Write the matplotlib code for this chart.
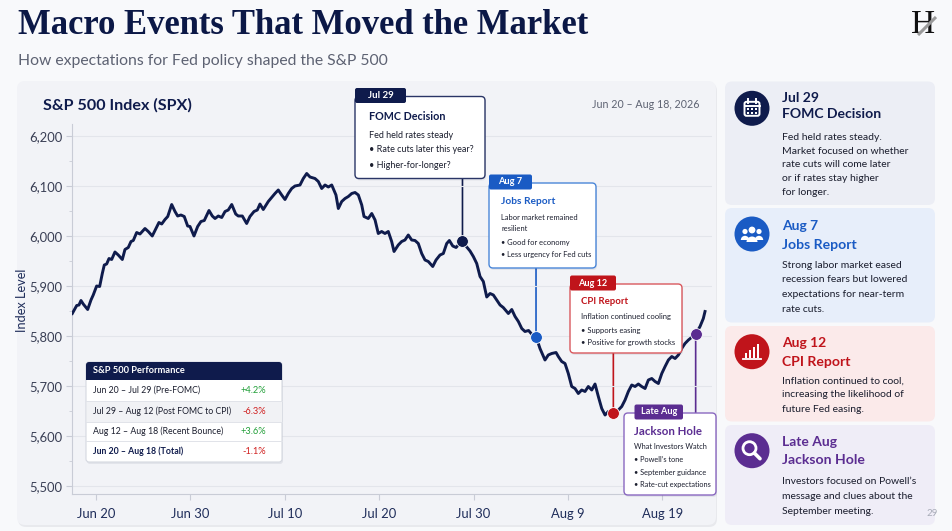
import numpy as np
import pandas as pd
import matplotlib
matplotlib.use("Agg")
import matplotlib.pyplot as plt
from matplotlib.patches import FancyBboxPatch, Rectangle, Circle, Wedge
from matplotlib.patches import ConnectionPatch
from matplotlib.ticker import FuncFormatter, MultipleLocator
import matplotlib.transforms as mtransforms

plt.rcParams['font.family'] = ['Lato', 'DejaVu Sans']

# ---- data (days after Jun 20, index level) ----
start_date = pd.Timestamp("2026-06-20")
days = [-2.51, -2.04, -1.80, -1.59, -1.35, -0.88, -0.53, -0.29, 0.07, 0.39,
        0.67, 0.88, 1.13, 1.38, 1.66, 2.01, 2.36, 2.79, 3.07, 3.42,
        3.71, 3.95, 4.31, 4.66, 5.19, 5.54, 5.96, 6.25, 6.67, 6.96,
        7.31, 7.60, 8.02, 8.37, 8.65, 9.00, 9.35, 9.71, 9.96, 10.38,
        10.77, 11.12, 11.47, 11.97, 12.32, 12.61, 12.96, 13.32, 13.67, 14.01,
        14.38, 14.80, 15.07, 15.50, 15.96, 16.31, 16.74, 17.09, 17.37, 17.72,
        18.25, 18.61, 18.96, 19.31, 19.67, 20.02, 20.37, 20.73, 21.08, 21.61,
        21.96, 22.32, 22.67, 23.20, 23.55, 23.91, 24.26, 24.61, 24.97, 25.42,
        25.67, 26.03, 26.38, 26.73, 27.09, 27.44, 27.79, 28.15, 28.39, 28.84,
        29.21, 29.56, 29.90, 30.26, 30.61, 30.96, 31.32, 31.57, 32.02, 32.38,
        32.73, 33.08, 33.44, 33.79, 34.14, 34.50, 34.85, 35.20, 35.67, 36.02,
        36.44, 36.79, 37.15, 37.43, 37.79, 38.14, 38.38, 38.82, 39.27, 39.62,
        39.97, 40.33, 40.68, 41.03, 41.39, 41.74, 42.09, 42.45, 42.80, 43.14,
        43.68, 44.04, 44.39, 44.74, 45.10, 45.44, 45.82, 46.19, 46.61, 47.03,
        47.56, 47.91, 48.27, 48.73, 48.97, 49.33, 49.68, 50.03, 50.39, 50.74,
        51.09, 51.45, 51.80, 52.15, 52.51, 52.86, 53.21, 53.57, 53.92, 54.27,
        54.80, 55.33, 55.69, 56.04, 56.39, 56.75, 57.10, 57.45, 57.80, 58.16,
        58.51, 58.87, 59.22, 59.57, 59.93, 60.28, 60.63, 60.99, 61.34, 61.69,
        62.04, 62.39, 62.75, 63.52, 63.98, 64.33, 64.51]
spx = [5845, 5861, 5862, 5871, 5864, 5853, 5872, 5882, 5900, 5899,
       5925, 5942, 5944, 5955, 5953, 5968, 5962, 5953, 5973, 5977,
       5989, 5991, 6007, 6004, 6015, 6009, 6000, 6011, 6027, 6024,
       6033, 6039, 6063, 6049, 6040, 6042, 6039, 6020, 6019, 6000,
       6019, 6029, 6031, 6051, 6040, 6035, 6040, 6037, 6049, 6052,
       6063, 6044, 6040, 6040, 6025, 6039, 6049, 6052, 6064, 6053,
       6069, 6077, 6085, 6092, 6082, 6073, 6085, 6095, 6100, 6102,
       6115, 6125, 6118, 6115, 6109, 6095, 6102, 6098, 6102, 6082,
       6055, 6069, 6075, 6079, 6085, 6087, 6082, 6062, 6039, 6035,
       6045, 6032, 6005, 6009, 6005, 6009, 5989, 5969, 5982, 5989,
       5992, 6002, 5992, 5991, 5985, 5965, 5952, 5949, 5939, 5952,
       5962, 5965, 5985, 5991, 5980, 5977, 5982, 5990, 5978, 5970,
       5959, 5945, 5919, 5909, 5878, 5885, 5882, 5872, 5862, 5857,
       5845, 5853, 5839, 5829, 5815, 5809, 5811, 5803, 5799, 5775,
       5752, 5762, 5765, 5767, 5759, 5749, 5745, 5725, 5699, 5695,
       5685, 5692, 5689, 5699, 5692, 5704, 5679, 5655, 5642, 5649,
       5647, 5652, 5659, 5672, 5689, 5702, 5699, 5704, 5699, 5695,
       5712, 5715, 5709, 5705, 5725, 5739, 5752, 5759, 5755, 5762,
       5775, 5785, 5792, 5804, 5819, 5835, 5849]

# events marked on the line
event_days = [38.82, 46.61, 54.80, 63.52]
event_tags = ["Jul 29", "Aug 7", "Aug 12", "Late Aug"]
event_names = ["FOMC Decision", "Jobs Report", "CPI Report", "Jackson Hole"]
event_colors = ["#0f1b4c", "#1a5bc4", "#c0141b", "#5b2d91"]

# performance table
perf_periods = ["Jun 20 \u2013 Jul 29 (Pre-FOMC)", "Jul 29 \u2013 Aug 12 (Post FOMC to CPI)",
                "Aug 12 \u2013 Aug 18 (Recent Bounce)", "Jun 20 \u2013 Aug 18 (Total)"]
perf_returns = [4.2, -6.3, 3.6, -1.1]

NAVY = "#0f1b4c"
W, H = 952, 531

fig = plt.figure(figsize=(W / 100, H / 100), dpi=100)
fig.patch.set_facecolor("#f8f9fb")
renderer = fig.canvas.get_renderer()

# background overlay in pixel coordinates
bg = fig.add_axes([0, 0, 1, 1], zorder=0)
bg.set_xlim(0, W)
bg.set_ylim(H, 0)
bg.axis("off")

fg = fig.add_axes([0, 0, 1, 1], zorder=3)
fg.set_xlim(0, W)
fg.set_ylim(H, 0)
fg.axis("off")
fg.patch.set_alpha(0)


def rbox(axis, x0, y0, x1, y1, fc, ec="none", lw=0, r=6, z=1, shadow=False):
    if shadow:
        axis.add_patch(FancyBboxPatch((x0 + 1, y0 + 2), x1 - x0, y1 - y0,
                                      boxstyle=f"round,pad=0,rounding_size={r}",
                                      fc="#1a2040", ec="none", alpha=0.07, zorder=z))
    axis.add_patch(FancyBboxPatch((x0, y0), x1 - x0, y1 - y0,
                                  boxstyle=f"round,pad=0,rounding_size={r}",
                                  fc=fc, ec=ec, lw=lw, zorder=z))


def put(axis, x, y, s, size, color="#1b1e2e", weight="normal", ha="left", va="center", **kw):
    return axis.text(x, y, s, fontsize=size, color=color, fontweight=weight,
                     ha=ha, va=va, **kw)


def fit(txt, width_px):
    w = txt.get_window_extent(renderer).width
    txt.set_fontsize(txt.get_fontsize() * width_px / w)
    return txt.get_fontsize()


def size_for(s, width_px, weight="normal"):
    # font size at which s is width_px wide
    t = fig.text(0, 0, s, fontsize=10, fontweight=weight)
    size = fit(t, width_px)
    t.remove()
    return size


# header
t = bg.text(18, 26, "Macro Events That Moved the Market", fontsize=25, fontweight="bold",
            color="#0b1846", family=["Liberation Serif", "DejaVu Serif"], va="center")
fit(t, 570)
t = put(bg, 18, 61, "How expectations for Fed policy shaped the S&P 500", 10.5, color="#5d6272")
fit(t, 372)
bg.text(923, 25, "H", fontsize=24, color="#111111", family=["Liberation Serif"],
        ha="center", va="center", zorder=2)
bg.plot([918, 936], [35, 17], color="#9a9a9a", lw=2.2, solid_capstyle="butt", zorder=3)

# cards
rbox(bg, 17, 81, 716, 525, "#f2f3f7", shadow=True, r=8)
panel_bg = ["#eceef5", "#e7eefa", "#fbeaea", "#efedf7"]
panel_y = [(81.5, 205), (208, 322.5), (326, 421.5), (425, 525)]
for (y0, y1), c in zip(panel_y, panel_bg):
    rbox(bg, 725, y0, 935, y1, c, r=7)

t = put(bg, 43, 105, "S&P 500 Index (SPX)", 11.2, color=NAVY, weight="bold")
fit(t, 149)
t = put(bg, 700, 104, "Jun 20 \u2013 Aug 18, 2026", 8.8, color="#5d6272", ha="right")
fit(t, 107)

# ---- main chart ----
ax = fig.add_axes([72 / W, (H - 494) / H, 640 / W, (494 - 123.5) / H], zorder=2)
ax.patch.set_alpha(0)
ax.plot(days, spx, color=NAVY, lw=2.1, solid_joinstyle="round", zorder=3)
ax.set_xlim(-2.54, 65.25)
ax.set_ylim(5484, 6225)

ax.yaxis.set_major_locator(MultipleLocator(100))
ax.yaxis.set_minor_locator(MultipleLocator(50))
ax.yaxis.set_major_formatter(FuncFormatter(lambda v, p: f"{v:,.0f}"))
ax.set_xticks(np.arange(0, 61, 10))
ax.xaxis.set_major_formatter(FuncFormatter(
    lambda v, p: f"{(start_date + pd.Timedelta(days=v)):%b} {(start_date + pd.Timedelta(days=v)).day}"))
ax.grid(axis="y", color="#e3e5eb", lw=0.8)
ax.set_axisbelow(True)
for s in ["top", "right"]:
    ax.spines[s].set_visible(False)
for s in ["left", "bottom"]:
    ax.spines[s].set_color("#c9ccd6")
ax.tick_params(axis="both", which="both", color="#c9ccd6", length=4)
ax.tick_params(axis="y", which="minor", length=2.5)
ax.tick_params(axis="y", labelsize=9.4, labelcolor="#3a3f55", pad=3)
ax.tick_params(axis="x", labelsize=9.4, labelcolor="#1f2d5a", pad=6)
put(bg, 22, 300, "Index Level", 9.2, color="#1f2d5a", ha="center", rotation=90)

# event markers and connectors
ev_vals = np.interp(event_days, days, spx)
box_edge_y = [178.5, 268, 353, 413]
blend = mtransforms.blended_transform_factory(ax.transData, fg.transData)
for d, v, c, by in zip(event_days, ev_vals, event_colors, box_edge_y):
    con = ConnectionPatch(xyA=(d, by), coordsA=blend, xyB=(d, v), coordsB=ax.transData,
                          color=c, lw=1.2, zorder=2)
    fig.add_artist(con)
    ax.plot(d, v, "o", ms=8.5, color=c, mec="white", mew=0.6, zorder=5, clip_on=False)

# annotation boxes: (box x0, y0, x1, y1), tag width, border colour
boxes = [((355, 96.5, 485, 178.5), 51, "#2a3566"),
         ((489, 183, 596, 268), 43, "#4a86d8"),
         ((570, 284, 682, 353), 46, "#d9585e"),
         ((624, 413, 716, 495), 48.5, "#8a68c0")]
box_lines = [["Fed held rates steady", "\u2022 Rate cuts later this year?", "\u2022 Higher-for-longer?"],
             ["Labor market remained", "resilient", "\u2022 Good for economy",
              "\u2022 Less urgency for Fed cuts"],
             ["Inflation continued cooling", "\u2022 Supports easing", "\u2022 Positive for growth stocks"],
             ["What Investors Watch", "\u2022 Powell\u2019s tone", "\u2022 September guidance",
              "\u2022 Rate-cut expectations"]]
line_y = [[135, 150, 165], [217, 228.5, 242, 254], [316.5, 330.5, 342.7], [446.5, 460, 473, 485]]
head_y = [117, 202, 302, 431.5]
text_x = [369, 501, 581, 634.5]
tag_x = [355, 489, 570, 634.5]
head_w = [76, 54, 47, 68]          # pixel width of the heading in each box
body_fit = [(1, 105), (3, 91), (2, 94), (3, 78)]   # (line index, pixel width)
tag_w_txt = [26, 24, 29, 36]

for i, ((x0, y0, x1, y1), tw, ec) in enumerate(boxes):
    rbox(fg, x0, y0, x1, y1, "white", ec=ec, lw=1.0, r=4, z=2, shadow=True)
    tx = tag_x[i]
    rbox(fg, tx, y0 - 8.5, tx + tw, y0 + 6.5, event_colors[i], r=2, z=3)
    tsz = min(7.4, size_for(event_tags[i], tag_w_txt[i], "bold"))
    put(fg, tx + tw / 2, y0 - 1, event_tags[i], tsz, color="white", weight="bold",
        ha="center", zorder=4)
    hsz = size_for(event_names[i], head_w[i], "bold")
    put(fg, text_x[i], head_y[i], event_names[i], hsz, color=event_colors[i],
        weight="bold", zorder=4)
    k, wpx = body_fit[i]
    bsz = size_for(box_lines[i][k], wpx)
    for s, yy in zip(box_lines[i], line_y[i]):
        put(fg, text_x[i], yy, s, bsz, color="#1b1e2e", zorder=4)

# performance table
tx0, tx1 = 86, 282
rows = [379.5, 401, 421.5, 441, 462]
rbox(fg, tx0, 362, tx1, 462, "white", ec="#d5d8e0", lw=0.8, r=3, z=2, shadow=True)
fg.add_patch(FancyBboxPatch((tx0, 362), tx1 - tx0, 17.5, boxstyle="round,pad=0,rounding_size=3",
                            fc=NAVY, ec="none", zorder=3))
fg.add_patch(Rectangle((tx0, 372), tx1 - tx0, 7.5, fc=NAVY, ec="none", zorder=3))
t = put(fg, 93, 370.7, "S&P 500 Performance", 6.8, color="white", weight="bold", zorder=4)
fit(t, 92)
fg.add_patch(Rectangle((tx0 + 0.5, rows[1]), tx1 - tx0 - 1, rows[2] - rows[1],
                       fc="#f1f2f5", ec="none", zorder=3))
for yy in rows[1:-1]:
    fg.plot([tx0, tx1], [yy, yy], color="#e1e3e9", lw=0.7, zorder=3)
tsize = size_for(perf_periods[1], 138)
for i, (lab, r) in enumerate(zip(perf_periods, perf_returns)):
    yc = (rows[i] + rows[i + 1]) / 2
    bold = "bold" if i == len(perf_periods) - 1 else "normal"
    put(fg, 93, yc, lab, tsize, color=NAVY if bold == "bold" else "#1b1e2e", weight=bold, zorder=4)
    put(fg, 266, yc, f"{r:+.1f}%", tsize + 0.4, color="#23a03a" if r > 0 else "#d01f1f",
        ha="right", zorder=4)

# ---- right side panels ----
panel_tags = ["Jul 29", "Aug 7", "Aug 12", "Late Aug"]
panel_text = [["Fed held rates steady.", "Market focused on whether", "rate cuts will come later",
               "or if rates stay higher", "for longer."],
              ["Strong labor market eased", "recession fears but lowered",
               "expectations for near-term", "rate cuts."],
              ["Inflation continued to cool,", "increasing the likelihood of", "future Fed easing."],
              ["Investors focused on Powell\u2019s", "message and clues about the", "September meeting."]]
tag_y = [98.3, 225.7, 343.3, 441.7]
name_y = [114.3, 244.7, 361.7, 460]
body_y = [[137.3, 151, 164.7, 178.7, 192.3], [265, 279.3, 294.7, 310],
          [380.7, 394.3, 409.3], [481.7, 496.7, 511.7]]
icon_y = [108.3, 234, 351.7, 450.7]
p_tag = size_for("Jul 29", 37, "bold")
p_name = size_for("FOMC Decision", 99, "bold")
p_body = size_for("Market focused on whether", 128)
for i in range(4):
    c = event_colors[i]
    put(bg, 782, tag_y[i], panel_tags[i], p_tag, color=c, weight="bold")
    put(bg, 782, name_y[i], event_names[i], p_name, color=c, weight="bold")
    for s, yy in zip(panel_text[i], body_y[i]):
        put(bg, 782, yy, s, p_body, color="#1b1e2e")
    bg.add_patch(Circle((752, icon_y[i]), 17.5, fc=c, ec="none", zorder=2))

# icons
cx, cy = 752, icon_y[0]
bg.add_patch(FancyBboxPatch((cx - 7.5, cy - 6.5), 15, 14, boxstyle="round,pad=0,rounding_size=2",
                            fc="none", ec="white", lw=1.4, zorder=3))
bg.plot([cx - 7.5, cx + 7.5], [cy - 2.5, cy - 2.5], color="white", lw=1.4, zorder=3)
for dx in (-4, 4):
    bg.plot([cx + dx, cx + dx], [cy - 9, cy - 5], color="white", lw=1.4, zorder=3)
for gx in (-4, 0, 4):
    for gy in (1, 4.5):
        bg.add_patch(Rectangle((cx + gx - 1, cy + gy - 1), 2, 2, fc="white", ec="none", zorder=3))

cx, cy = 752, icon_y[1]
for dx, r, yoff in ((-7, 2.6, -2.5), (7, 2.6, -2.5), (0, 3.4, -4)):
    bg.add_patch(Circle((cx + dx, cy + yoff), r, fc="white", ec="none", zorder=3))
for dx, r, yb in ((-7, 4.2, 6), (7, 4.2, 6), (0, 5.5, 8)):
    bg.add_patch(Wedge((cx + dx, cy + yb), r, 180, 360, fc="white", ec="none",
                       zorder=3 if dx else 4))

cx, cy = 752, icon_y[2]
for k, h in enumerate([5, 8, 11, 14]):
    bg.add_patch(Rectangle((cx - 7.5 + k * 4, cy + 6 - h), 2.6, h, fc="white", ec="none", zorder=3))
bg.plot([cx - 9, cx + 9], [cy + 7.5, cy + 7.5], color="white", lw=1.3, zorder=3)

cx, cy = 752, icon_y[3]
bg.add_patch(Circle((cx - 2.5, cy - 2.5), 6.5, fc="none", ec="white", lw=2, zorder=3))
bg.plot([cx + 2.3, cx + 8], [cy + 2.3, cy + 8], color="white", lw=2.6,
        solid_capstyle="round", zorder=3)

put(bg, 938, 514, "29", 7, color="#a8acb8", ha="right")

fig.savefig("out.png", dpi=100, facecolor=fig.get_facecolor())
